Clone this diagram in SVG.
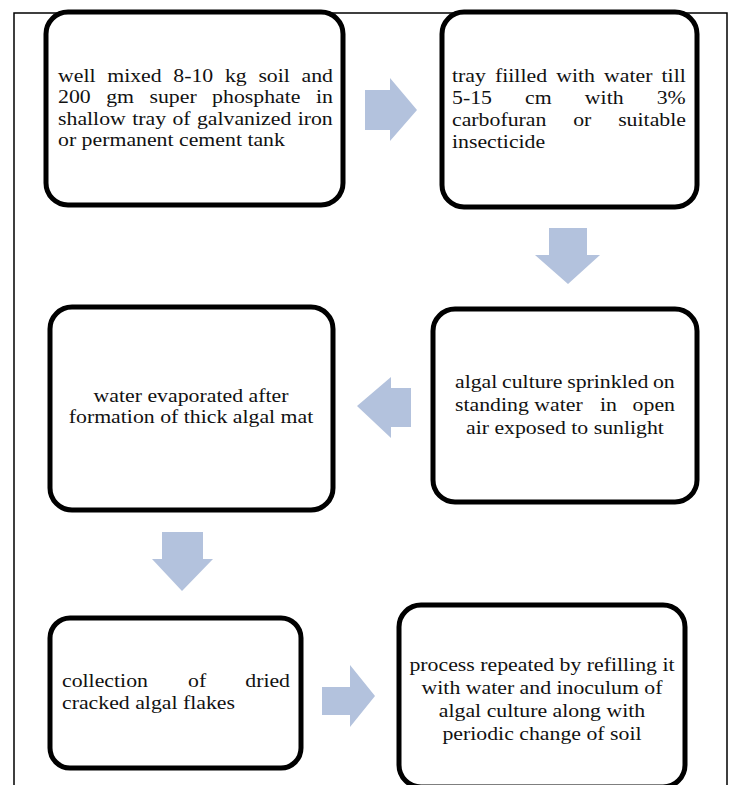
<svg xmlns="http://www.w3.org/2000/svg" width="732" height="785" viewBox="0 0 732 785">
<style>
.box{fill:#fff;stroke:#000;stroke-width:5}
.t{font-family:"Liberation Serif","Times New Roman",serif;font-size:19.3px;fill:#111}
.c{text-anchor:middle}
.e{text-anchor:end}
.arr{fill:#B3C2DD}
.frame{fill:none;stroke:#000;stroke-width:1.5}
</style>
<rect width="732" height="785" fill="#fff"/>
<path class="frame" d="M14,785 V13 H727 V785"/>
<g id="connectors">
<polygon class="arr" points="365,90 390,90 390,78 417,110 390,141 390,130 365,130"/>
<polygon class="arr" points="549,228 587,228 587,255 600,255 568,284 535,255 549,255"/>
<polygon class="arr" points="411,388 391,388 391,377 357,406 391,438 391,427 411,427"/>
<polygon class="arr" points="162,532 203,532 203,559 213,559 182,591 152,559 162,559"/>
<polygon class="arr" points="322,687 350,687 350,665 375,696 350,727 350,715 322,715"/>
</g>
<g id="n1">
<rect class="box" x="46" y="12" width="297" height="193" rx="22"/>
<g transform="matrix(1.13 0 0 1 58 0)">
<text class="t" x="0" y="82" word-spacing="5.5">well mixed 8-10 kg soil and</text>
<text class="t" x="0" y="103.5" word-spacing="8.85">200 gm super phosphate in</text>
<text class="t" x="0" y="125" word-spacing="0.8">shallow tray of galvanized iron</text>
<text class="t" x="0" y="146.5">or permanent cement tank</text>
</g>
</g>
<g id="n2">
<rect class="box" x="442" y="12" width="255" height="195" rx="22"/>
<g transform="matrix(1.13 0 0 1 452 0)">
<text class="t" x="0" y="82" word-spacing="3.25">tray fiilled with water till</text>
<text class="t" x="0" y="104" word-spacing="24.5">5-15 cm with 3%</text>
<text class="t" x="0" y="126" word-spacing="18.9">carbofuran or suitable</text>
<text class="t" x="0" y="148">insecticide</text>
</g>
</g>
<g id="n3">
<rect class="box" x="50" y="307" width="283" height="203" rx="22"/>
<g transform="matrix(1.13 0 0 1 191 0)">
<text class="t c" x="0" y="402">water evaporated after</text>
<text class="t c" x="0" y="423.5">formation of thick algal mat</text>
</g>
</g>
<g id="n4">
<rect class="box" x="433" y="309" width="264" height="193" rx="22"/>
<g transform="matrix(1.13 0 0 1 455 0)">
<text class="t" x="0" y="388" word-spacing="-0.7">algal culture sprinkled on</text>
<text class="t" x="0" y="411">standing water</text><text class="t" x="128.3" y="411">in</text><text class="t e" x="194.7" y="411">open</text>
<text class="t c" x="97.3" y="434">air exposed to sunlight</text>
</g>
</g>
<g id="n5">
<rect class="box" x="50" y="618" width="251" height="150" rx="20"/>
<g transform="matrix(1.13 0 0 1 62 0)">
<text class="t" x="0" y="687">collection</text><text class="t" x="111.5" y="687">of</text><text class="t e" x="201.8" y="687">dried</text>
<text class="t" x="0" y="709">cracked algal flakes</text>
</g>
</g>
<g id="n6">
<rect class="box" x="399" y="605" width="286" height="182" rx="22"/>
<g transform="matrix(1.13 0 0 1 542 0)">
<text class="t c" x="0" y="671">process repeated by refilling it</text>
<text class="t c" x="0" y="694">with water and inoculum of</text>
<text class="t c" x="0" y="717">algal culture along with</text>
<text class="t c" x="0" y="740">periodic change of soil</text>
</g>
</g>
</svg>
